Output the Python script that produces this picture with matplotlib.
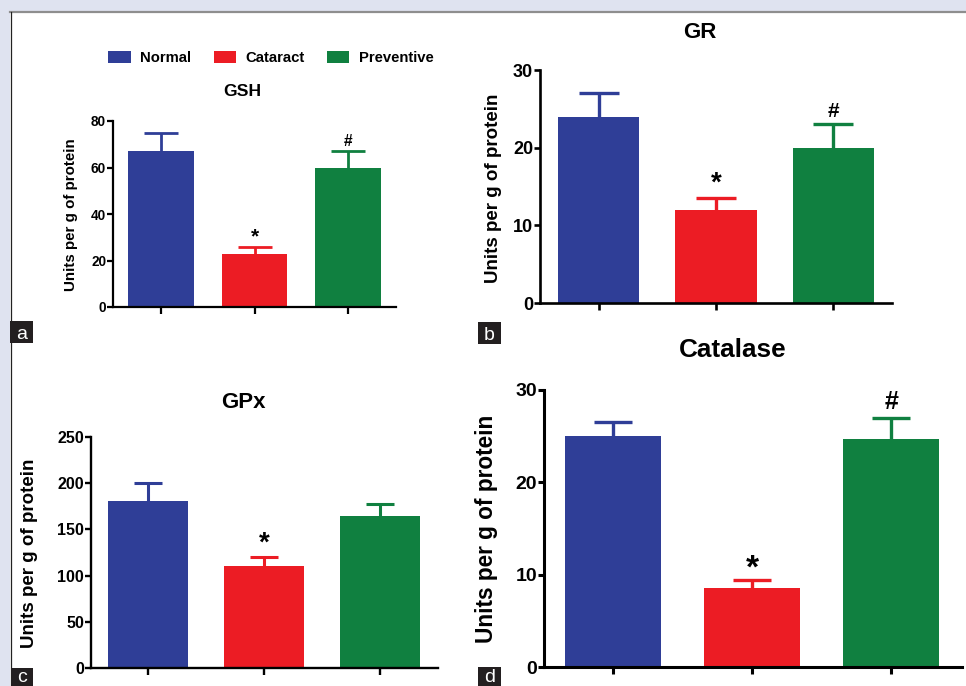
import matplotlib
matplotlib.use('Agg')
import matplotlib.pyplot as plt
from matplotlib.patches import Rectangle, Patch
from matplotlib.lines import Line2D

plt.rcParams['font.family'] = ['Liberation Sans', 'DejaVu Sans']
plt.rcParams['font.weight'] = 'bold'

groups = ['Normal', 'Cataract', 'Preventive']
colors = ['#2f3e97', '#ec1c24', '#108040']

gsh_mean = [67, 23, 60]
gsh_err = [8, 3, 7]
gr_mean = [24, 12, 20]
gr_err = [3, 1.5, 3]
gpx_mean = [181, 110, 164]
gpx_err = [19, 10, 14]
cat_mean = [25, 8.6, 24.7]
cat_err = [1.5, 0.8, 2.3]

# significance marks: (bar index, symbol, y value)
gsh_marks = [(1, '*', 30), (2, '#', 71)]
gr_marks = [(1, '*', 15.4), (2, '#', 24.6)]
gpx_marks = [(1, '*', 135)]
cat_marks = [(1, '*', 10.6), (2, '#', 28.7)]

W, H = 966, 686
fig = plt.figure(figsize=(W / 100, H / 100), dpi=100)
fig.patch.set_facecolor('#dfe3f0')

# white panel with borders (behind the axes)
fig.add_artist(Rectangle((10 / W, 0), (W - 10) / W, (H - 12) / H, transform=fig.transFigure,
                         facecolor='white', edgecolor='none', zorder=-10))
fig.add_artist(Line2D([10 / W, 1], [1 - 12 / H, 1 - 12 / H], transform=fig.transFigure,
                      color='#8e8e8e', lw=1.6, zorder=-9))
fig.add_artist(Line2D([10.5 / W, 10.5 / W], [0, 1 - 12 / H], transform=fig.transFigure,
                      color='#222222', lw=0.9, zorder=-9))


def px_axes(x0, x1, y0, y1):
    # x0,x1 left/right px; y0 = px of baseline, y1 = px of top
    return fig.add_axes([x0 / W, 1 - y0 / H, (x1 - x0) / W, (y0 - y1) / H])


def panel(box, xlim, means, errs, ymax, step, marks, title, title_xy,
          tfs, tickfs, labfs, lab_xy, lw, elw, cap, barw, markfs):
    ax = px_axes(*box)
    x = range(len(means))
    ax.bar(x, means, width=barw, color=colors, zorder=2)
    for i in x:
        eb = ax.errorbar(i, means[i], yerr=[[0], [errs[i]]], fmt='none', ecolor=colors[i],
                         elinewidth=elw, capsize=cap, capthick=elw, zorder=1)
        # only the upper cap is shown
        for c in eb[1]:
            if c.get_ydata()[0] <= means[i]:
                c.set_visible(False)
    for i, s, y in marks:
        ax.text(i, y, s, ha='center', va='center', fontsize=markfs if s == '*' else markfs * 0.75,
                fontweight='bold')
    ax.set_xlim(*xlim)
    ax.set_ylim(0, ymax)
    ax.set_yticks(range(0, ymax + 1, step))
    ax.set_xticks(list(x))
    ax.set_xticklabels([])
    for s in ['top', 'right']:
        ax.spines[s].set_visible(False)
    for s in ['left', 'bottom']:
        ax.spines[s].set_linewidth(lw)
    ax.tick_params(axis='y', direction='out', length=4, width=lw, labelsize=tickfs, pad=1)
    ax.tick_params(axis='x', direction='out', length=5, width=lw)
    for t in ax.get_yticklabels():
        t.set_fontweight('bold')
    ax.patch.set_alpha(0)
    fig.text(title_xy[0] / W, 1 - title_xy[1] / H, title, ha='center', va='center',
             fontsize=tfs, fontweight='bold')
    fig.text(lab_xy[0] / W, 1 - lab_xy[1] / H, 'Units per g of protein', rotation=90,
             ha='center', va='center', fontsize=labfs, fontweight='bold')
    return ax


panel((113, 396, 307, 121), (-0.513, 2.51), gsh_mean, gsh_err, 80, 20, gsh_marks,
      'GSH', (242, 92), 12.6, 9.8, 10.9, (71, 215), 1.6, 2.0, 12, 0.70, 15)
panel((540, 892, 303, 70), (-0.498, 2.498), gr_mean, gr_err, 30, 10, gr_marks,
      'GR', (700, 33), 16, 13, 13.5, (493, 188), 1.9, 2.4, 14.5, 0.69, 20)
panel((91, 438, 668, 437), (-0.491, 2.5), gpx_mean, gpx_err, 250, 50, gpx_marks,
      'GPx', (243, 402), 16, 11.5, 13.5, (30, 553), 1.7, 2.2, 10, 0.69, 20)
panel((544, 962, 667, 390), (-0.496, 2.51), cat_mean, cat_err, 30, 10, cat_marks,
      'Catalase', (733, 350), 18.8, 14, 16.3, (487, 529), 2.2, 2.4, 14, 0.69, 24)

# legend
handles = [Patch(facecolor=c, edgecolor='none', label=g) for c, g in zip(colors, groups)]
fig.legend(handles=handles, loc='center', bbox_to_anchor=(271 / W, 1 - 58 / H), ncol=3,
           frameon=False, fontsize=10.7, handlelength=1.5, handleheight=0.9,
           handletextpad=0.65, columnspacing=1.5, borderpad=0)

# panel letters
for letter, (x0, y0, x1, y1) in zip('abcd', [(10, 321, 33, 343), (478, 322, 501, 344),
                                             (11, 668, 33, 686), (478, 667, 501, 686)]):
    fig.add_artist(Rectangle((x0 / W, 1 - y1 / H), (x1 - x0) / W, (y1 - y0) / H,
                             transform=fig.transFigure, facecolor='#231f20', edgecolor='none'))
    fig.text((x0 + x1) / 2 / W, 1 - y1 / H, letter, ha='center', va='bottom',
             color='white', fontsize=14, fontweight='normal')

fig.savefig('out.png', dpi=100, facecolor=fig.get_facecolor())
